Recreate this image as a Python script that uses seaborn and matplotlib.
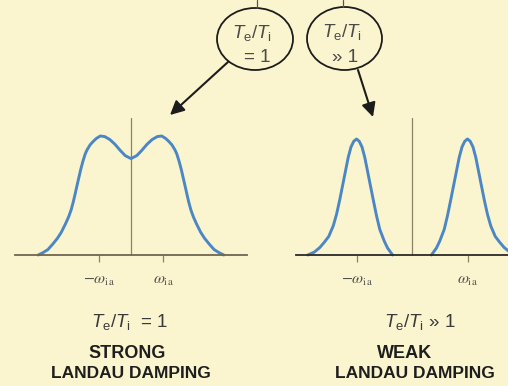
import matplotlib
matplotlib.use("Agg")
import matplotlib.pyplot as plt
from matplotlib.patches import Ellipse
import pandas as pd
import seaborn as sns

# ---- spectra (frequency in units of the ion-acoustic frequency) ----
strong_x = [-2.90, -2.75, -2.60, -2.45, -2.30, -2.18, -2.05, -1.95, -1.87, -1.80,
            -1.74, -1.69, -1.63, -1.57, -1.50, -1.43, -1.37, -1.28, -1.18, -1.08,
            -0.96, -0.82, -0.66, -0.50, -0.34, -0.18, 0.00,
            0.18, 0.34, 0.50, 0.66, 0.82, 0.96, 1.08, 1.18, 1.28, 1.37,
            1.43, 1.50, 1.57, 1.63, 1.69, 1.74, 1.80, 1.87, 1.95, 2.05,
            2.18, 2.30, 2.45, 2.60, 2.75, 2.90]
strong_y = [0.00, 0.02, 0.045, 0.09, 0.14, 0.19, 0.26, 0.32, 0.38, 0.45,
            0.52, 0.58, 0.65, 0.72, 0.79, 0.85, 0.885, 0.925, 0.955, 0.98,
            1.00, 0.995, 0.97, 0.93, 0.88, 0.835, 0.81,
            0.835, 0.88, 0.93, 0.97, 0.995, 1.00, 0.98, 0.955, 0.925, 0.885,
            0.85, 0.79, 0.72, 0.65, 0.58, 0.52, 0.45, 0.38, 0.32, 0.26,
            0.19, 0.14, 0.09, 0.045, 0.02, 0.00]

weak_lower_x = [-1.88, -1.76, -1.66, -1.58, -1.50, -1.42, -1.36, -1.30, -1.25, -1.20,
                -1.15, -1.10, -1.05, -1.00, -0.95, -0.90, -0.85, -0.80, -0.75, -0.70,
                -0.64, -0.58, -0.50, -0.44, -0.35]
weak_lower_y = [0.00, 0.025, 0.065, 0.11, 0.16, 0.25, 0.35, 0.48, 0.60, 0.72,
                0.84, 0.93, 0.98, 1.00, 0.98, 0.93, 0.84, 0.72, 0.60, 0.48,
                0.34, 0.22, 0.12, 0.06, 0.00]
weak_upper_x = [0.35, 0.44, 0.50, 0.58, 0.64, 0.70, 0.75, 0.80, 0.85, 0.90,
                0.95, 1.00, 1.05, 1.10, 1.15, 1.20, 1.25, 1.30, 1.36, 1.42,
                1.50, 1.58, 1.66, 1.76, 1.88]
weak_upper_y = [0.00, 0.06, 0.12, 0.22, 0.34, 0.48, 0.60, 0.72, 0.84, 0.93,
                0.98, 1.00, 0.98, 0.93, 0.84, 0.72, 0.60, 0.48, 0.35, 0.25,
                0.16, 0.11, 0.065, 0.025, 0.00]

tick_positions = [-1, 1]
tick_labels = [r"$-\omega_{\mathrm{ia}}$", r"$\omega_{\mathrm{ia}}$"]

ratio_math = r"$T_{\mathrm{e}}/T_{\mathrm{i}}$"
bubble_values = ["= 1", "\u00bb 1"]
ratio_labels = [ratio_math + "  = 1", ratio_math + " \u00bb 1"]
damping_words = ["STRONG", "WEAK"]
damping_line = "LANDAU DAMPING"

# ---- style ----
BG = "#fbf5cf"
CURVE = "#4b87c6"
sns.set_theme(style="white", rc={"figure.facecolor": BG, "axes.facecolor": "none"})
plt.rcParams["font.family"] = ["Liberation Sans", "DejaVu Sans"]
plt.rcParams["mathtext.fontset"] = "custom"
plt.rcParams["mathtext.rm"] = "Liberation Sans"
plt.rcParams["mathtext.it"] = "Liberation Sans:italic"
plt.rcParams["mathtext.bf"] = "Liberation Sans:bold"

W, H = 508, 386
fig = plt.figure(figsize=(W / 100, H / 100), dpi=100)
fig.patch.set_facecolor(BG)


def px_axes(x0, y_base, width, height):
    return fig.add_axes([x0 / W, (H - y_base) / H, width / W, height / H])


def style_panel(ax, half_span, top, base_color):
    ax.set_xlim(-half_span, half_span)
    ax.set_ylim(0, top)
    for side in ("top", "left", "right"):
        ax.spines[side].set_visible(False)
    ax.spines["bottom"].set_color(base_color)
    ax.spines["bottom"].set_linewidth(1.3)
    ax.axvline(0, color="#8a8166", lw=0.9, zorder=1)
    ax.set_yticks([])
    ax.set_xticks(tick_positions)
    ax.set_xticklabels(tick_labels, math_fontfamily="stix")
    ax.tick_params(axis="x", direction="out", length=5, width=0.9,
                   color="#8a8166", pad=8, labelsize=11.5, labelcolor="#505050",
                   bottom=True)
    ax.set_xlabel("")
    ax.set_ylabel("")
    for ln in ax.lines:
        ln.set_clip_on(False)


# left panel: Te/Ti = 1
ax_l = px_axes(15, 255, 232, 137)
strong = pd.DataFrame({"omega": strong_x, "S": strong_y})
sns.lineplot(data=strong, x="omega", y="S", ax=ax_l, color=CURVE, lw=2.1,
             sort=False, estimator=None)
style_panel(ax_l, 3.625, 137 / 119, "#6e6650")

# right panel: Te/Ti >> 1
ax_r = px_axes(296, 255, 232, 137)
weak = pd.DataFrame({
    "omega": weak_lower_x + weak_upper_x,
    "S": weak_lower_y + weak_upper_y,
    "branch": ["lower"] * len(weak_lower_x) + ["upper"] * len(weak_upper_x),
})
sns.lineplot(data=weak, x="omega", y="S", units="branch", estimator=None,
             ax=ax_r, color=CURVE, lw=2.1, sort=False)
style_panel(ax_r, 116 / 55.5, 137 / 116, "#2a2a2a")

# ---- annotation layer in pixel coordinates ----
ov = fig.add_axes([0, 0, 1, 1])
ov.set_xlim(0, W)
ov.set_ylim(H, 0)
ov.axis("off")
ov.patch.set_alpha(0)

INK = "#1c1c1c"
for (cx, cy, rx, ry, stem_x) in [(255, 39, 38, 31, 257), (344.5, 38.5, 37.5, 31.5, 343)]:
    ov.add_patch(Ellipse((cx, cy), 2 * rx, 2 * ry, fill=False, ec=INK, lw=1.3))
    ov.plot([stem_x, stem_x], [0, cy - ry], color="#555555", lw=0.9)

ov.annotate("", xy=(170, 115), xytext=(228, 62),
            arrowprops=dict(arrowstyle="-|>,head_length=0.7,head_width=0.35",
                            color=INK, lw=1.5, shrinkA=0, shrinkB=0, mutation_scale=12))
ov.annotate("", xy=(373, 117), xytext=(358, 70),
            arrowprops=dict(arrowstyle="-|>,head_length=0.7,head_width=0.35",
                            color=INK, lw=1.5, shrinkA=0, shrinkB=0, mutation_scale=12))

BUBBLE_INK = "#4a4a4a"
ov.text(252, 33, ratio_math, ha="center", va="center", fontsize=13.5, color=BUBBLE_INK)
ov.text(257, 57, bubble_values[0], ha="center", va="center", fontsize=13.5, color=BUBBLE_INK)
ov.text(342, 32, ratio_math, ha="center", va="center", fontsize=13.5, color=BUBBLE_INK)
ov.text(345, 57, bubble_values[1], ha="center", va="center", fontsize=13.5, color=BUBBLE_INK)

LABEL_INK = "#3a3a3a"
ov.text(130, 322, ratio_labels[0], ha="center", va="center", fontsize=13.5, color=LABEL_INK)
ov.text(420, 322, ratio_labels[1], ha="center", va="center", fontsize=13.5, color=LABEL_INK)
for x_word, x_line, word in [(127, 131, damping_words[0]), (405, 415, damping_words[1])]:
    ov.text(x_word, 353, word, ha="center", va="center", fontsize=13,
            fontweight="bold", color="#1e1e1e")
    ov.text(x_line, 374, damping_line, ha="center", va="center", fontsize=12.5,
            fontweight="bold", color="#1e1e1e")

fig.savefig("out.png", dpi=100, facecolor=BG)
